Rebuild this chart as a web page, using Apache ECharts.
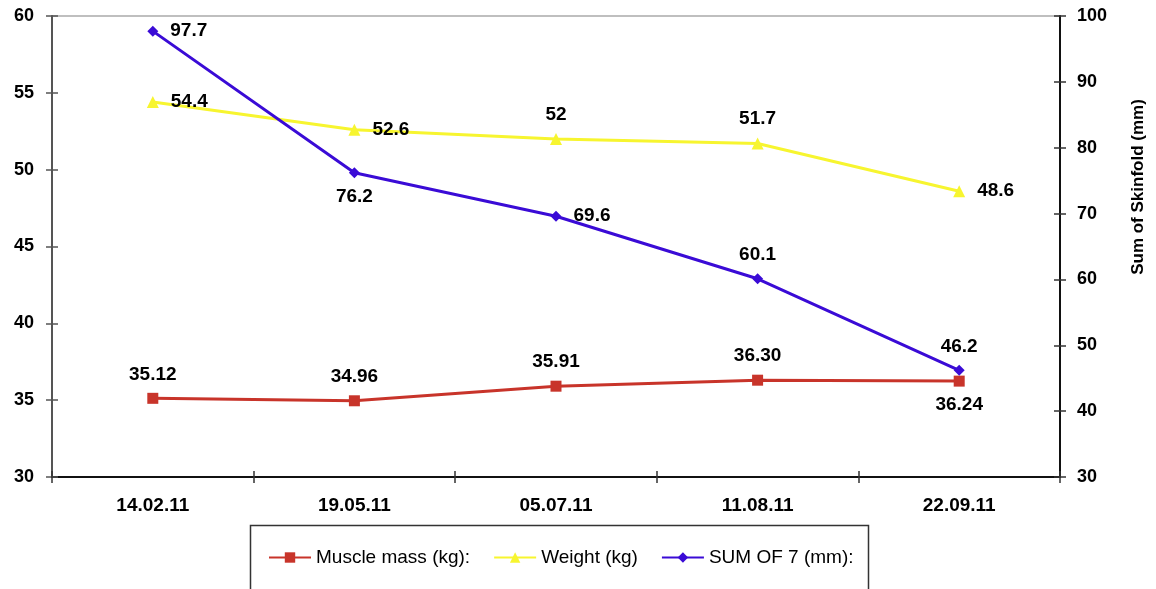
<!DOCTYPE html>
<html><head><meta charset="utf-8">
<script src="https://cdn.jsdelivr.net/npm/echarts@6/dist/echarts.min.js"></script>
<style>html,body{margin:0;padding:0;background:#fff}#c{width:1156px;height:589px}</style>
</head><body><div id="c"></div>
<script>
const categories = ['14.02.11','19.05.11','05.07.11','11.08.11','22.09.11'];
const muscleMass = [35.12, 34.96, 35.91, 36.30, 36.24];
const weight = [54.4, 52.6, 52, 51.7, 48.6];
const sumOf7 = [97.7, 76.2, 69.6, 60.1, 46.2];
const muscleLabelPos = ['top','top','top','top','bottom'];
const weightLabelPos = ['right','right','top','top','right'];
const sumLabelPos = ['right','bottom','right','top','top'];
const muscleLabelText = ['35.12','34.96','35.91','36.30','36.24'];

const FONT = 'Arial, "Liberation Sans", sans-serif';
const lblStyle = {show:true, color:'#000', fontFamily:FONT, fontWeight:'bold', fontSize:19};
function mk(vals, pos, txt){
  return vals.map((v,i)=>({value:v, label:Object.assign({}, lblStyle, {position:pos[i], distance: pos[i]==='right'?12:9, formatter: txt? txt[i] : String(v)})}));
}
const axLbl = {color:'#000', fontFamily:FONT, fontWeight:'bold', fontSize:19};
const chart = echarts.init(document.getElementById('c'));
chart.setOption({
  animation:false,
  grid:{left:52, right:96, top:16, bottom:112, show:true, borderColor:'#aaa', borderWidth:1.5},
  xAxis:[
    {type:'category', data:categories, boundaryGap:true,
     axisLine:{lineStyle:{color:'#111', width:2}},
     axisTick:{show:true, length:6, lineStyle:{color:'#333', width:1.5}},
     axisLabel:Object.assign({}, axLbl, {margin:19}),
     splitLine:{show:false}},
    {type:'category', data:categories, boundaryGap:true, position:'bottom',
     axisLine:{show:false}, axisLabel:{show:false},
     axisTick:{show:true, inside:true, length:6, lineStyle:{color:'#333', width:1.5}}}
  ],
  yAxis:[
    {type:'value', min:30, max:60, interval:5, position:'left',
     axisLine:{show:true, lineStyle:{color:'#555', width:2}},
     axisTick:{show:true, length:6, lineStyle:{color:'#555', width:1.5}},
     axisLabel:Object.assign({}, axLbl, {fontSize:18, margin:18}),
     splitLine:{show:false}},
    {type:'value', min:30, max:100, interval:10, position:'right',
     axisLine:{show:true, lineStyle:{color:'#111', width:2}},
     axisTick:{show:true, length:6, lineStyle:{color:'#333', width:1.5}},
     axisLabel:Object.assign({}, axLbl, {fontSize:18, margin:17}),
     splitLine:{show:false}},
    {type:'value', min:30, max:60, interval:5, position:'left',
     axisLine:{show:false}, axisLabel:{show:false}, splitLine:{show:false},
     axisTick:{show:true, inside:true, length:6, lineStyle:{color:'#555', width:1.5}}},
    {type:'value', min:30, max:100, interval:10, position:'right',
     axisLine:{show:false}, axisLabel:{show:false}, splitLine:{show:false},
     axisTick:{show:true, inside:true, length:6, lineStyle:{color:'#333', width:1.5}}}
  ],
  legend:{top:548, left:268, itemWidth:42, itemHeight:13, itemGap:23, padding:0,
    textStyle:{color:'#000', fontFamily:FONT, fontSize:19},
    data:['Muscle mass (kg):','Weight (kg)','SUM OF 7 (mm):']},
  graphic:[
    {type:'rect', left:248, top:523, shape:{width:618, height:80}, style:{fill:'none', stroke:'#333', lineWidth:1.5}, silent:true},
    {type:'text', x:1138, y:187, rotation:Math.PI/2, style:{text:'Sum of Skinfold (mm)', fill:'#000', font:'bold 17px Arial, "Liberation Sans", sans-serif', align:'center', verticalAlign:'middle'}}
  ],
  series:[
    {name:'Muscle mass (kg):', type:'line', yAxisIndex:0, data:mk(muscleMass, muscleLabelPos, muscleLabelText),
     symbol:'rect', symbolSize:11, itemStyle:{color:'#C8342A'}, lineStyle:{color:'#C8342A', width:3}},
    {name:'Weight (kg)', type:'line', yAxisIndex:0, data:mk(weight, weightLabelPos),
     symbol:'triangle', symbolSize:12, itemStyle:{color:'#F7F52F'}, lineStyle:{color:'#F7F52F', width:3}},
    {name:'SUM OF 7 (mm):', type:'line', yAxisIndex:1, data:mk(sumOf7, sumLabelPos),
     symbol:'diamond', symbolSize:11, itemStyle:{color:'#3A0BD6'}, lineStyle:{color:'#3A0BD6', width:3}}
  ]
});
</script></body></html>
